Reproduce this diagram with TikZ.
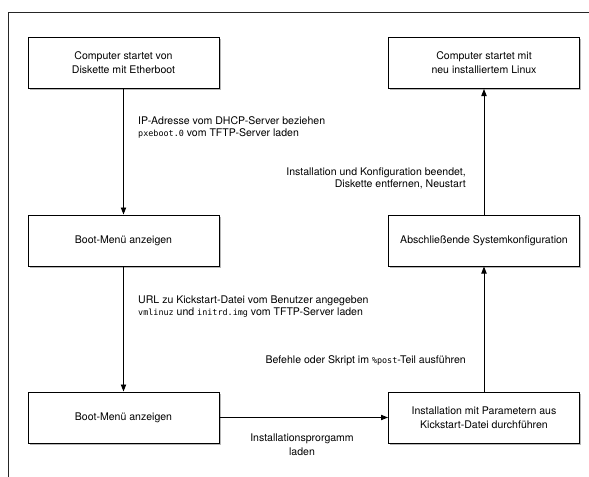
\documentclass[tikz,border=0pt]{standalone}
\usepackage{fontspec}
\setmainfont{TeX Gyre Heros}
\setmonofont{DejaVu Sans Mono}
\usetikzlibrary{shadows,arrows.meta}

\newcommand{\kode}[1]{{\fontsize{7.2}{8}\ttfamily #1}}

\tikzset{
	stepbox/.style = {draw, line width = 0.8pt, fill = white, inner sep = 0pt,
		minimum width = 5.73cm, minimum height = 1.53cm, align = center,
		font = \fontsize{9}{11.9}\selectfont,
		drop shadow = {shadow xshift = 1.6pt, shadow yshift = -1.6pt, fill = black!35, opacity = 0.8}},
	flow/.style = {line width = 0.8pt, -{Triangle[length = 6pt, width = 4.5pt]}},
	note/.style = {inner sep = 0pt, font = \fontsize{9}{10.2}\selectfont}
}

\begin{document}
\begin{tikzpicture}[x = 0.03cm, y = -0.03cm]
	\useasboundingbox (0, 0) rectangle (589, 476);
	\begin{scope}
		\clip (0, 0) rectangle (589, 476);
		\draw[line width = 0.8pt, black!85] (8, 12) rectangle (600, 490);
	\end{scope}
	
	\node[stepbox] (floppy) at (123.5, 63) {Computer startet von\\Diskette mit Etherboot};
	\node[stepbox] (menu1) at (123.5, 240.5) {Boot-Menü anzeigen};
	\node[stepbox] (menu2) at (123.5, 417.5) {Boot-Menü anzeigen};
	\node[stepbox] (install) at (484, 417.5) {Installation mit Parametern aus\\Kickstart-Datei durchführen};
	\node[stepbox] (config) at (484, 240.5) {Abschließende Systemkonfiguration};
	\node[stepbox] (linux) at (484, 63) {Computer startet mit\\neu installiertem Linux};
	
	\draw[flow] (floppy) -- (menu1);
	\draw[flow] (menu1) -- (menu2);
	\draw[flow] (menu2) -- (install);
	\draw[flow] (install) -- (config);
	\draw[flow] (config) -- (linux);
	
	\node[note, align = left, anchor = west] (dhcp) at (138, 127) {IP-Adresse vom DHCP-Server beziehen\\\kode{pxeboot.0} vom TFTP-Server laden};
	\node[note, align = right, anchor = east] (reboot) at (466, 178.5) {Installation und Konfiguration beendet,\\Diskette entfernen, Neustart};
	\node[note, align = left, anchor = west] (url) at (138, 306.5) {URL zu Kickstart-Datei vom Benutzer angegeben\\\kode{vmlinuz} und \kode{initrd.img} vom TFTP-Server laden};
	\node[note, anchor = east] (post) at (466, 361) {Befehle oder Skript im \kode{\%post}-Teil ausführen};
	\node[note, align = center, font = \fontsize{9}{11.9}\selectfont] (loader) at (302, 444.5) {Installationsprorgamm\\laden};
\end{tikzpicture}
\end{document}
